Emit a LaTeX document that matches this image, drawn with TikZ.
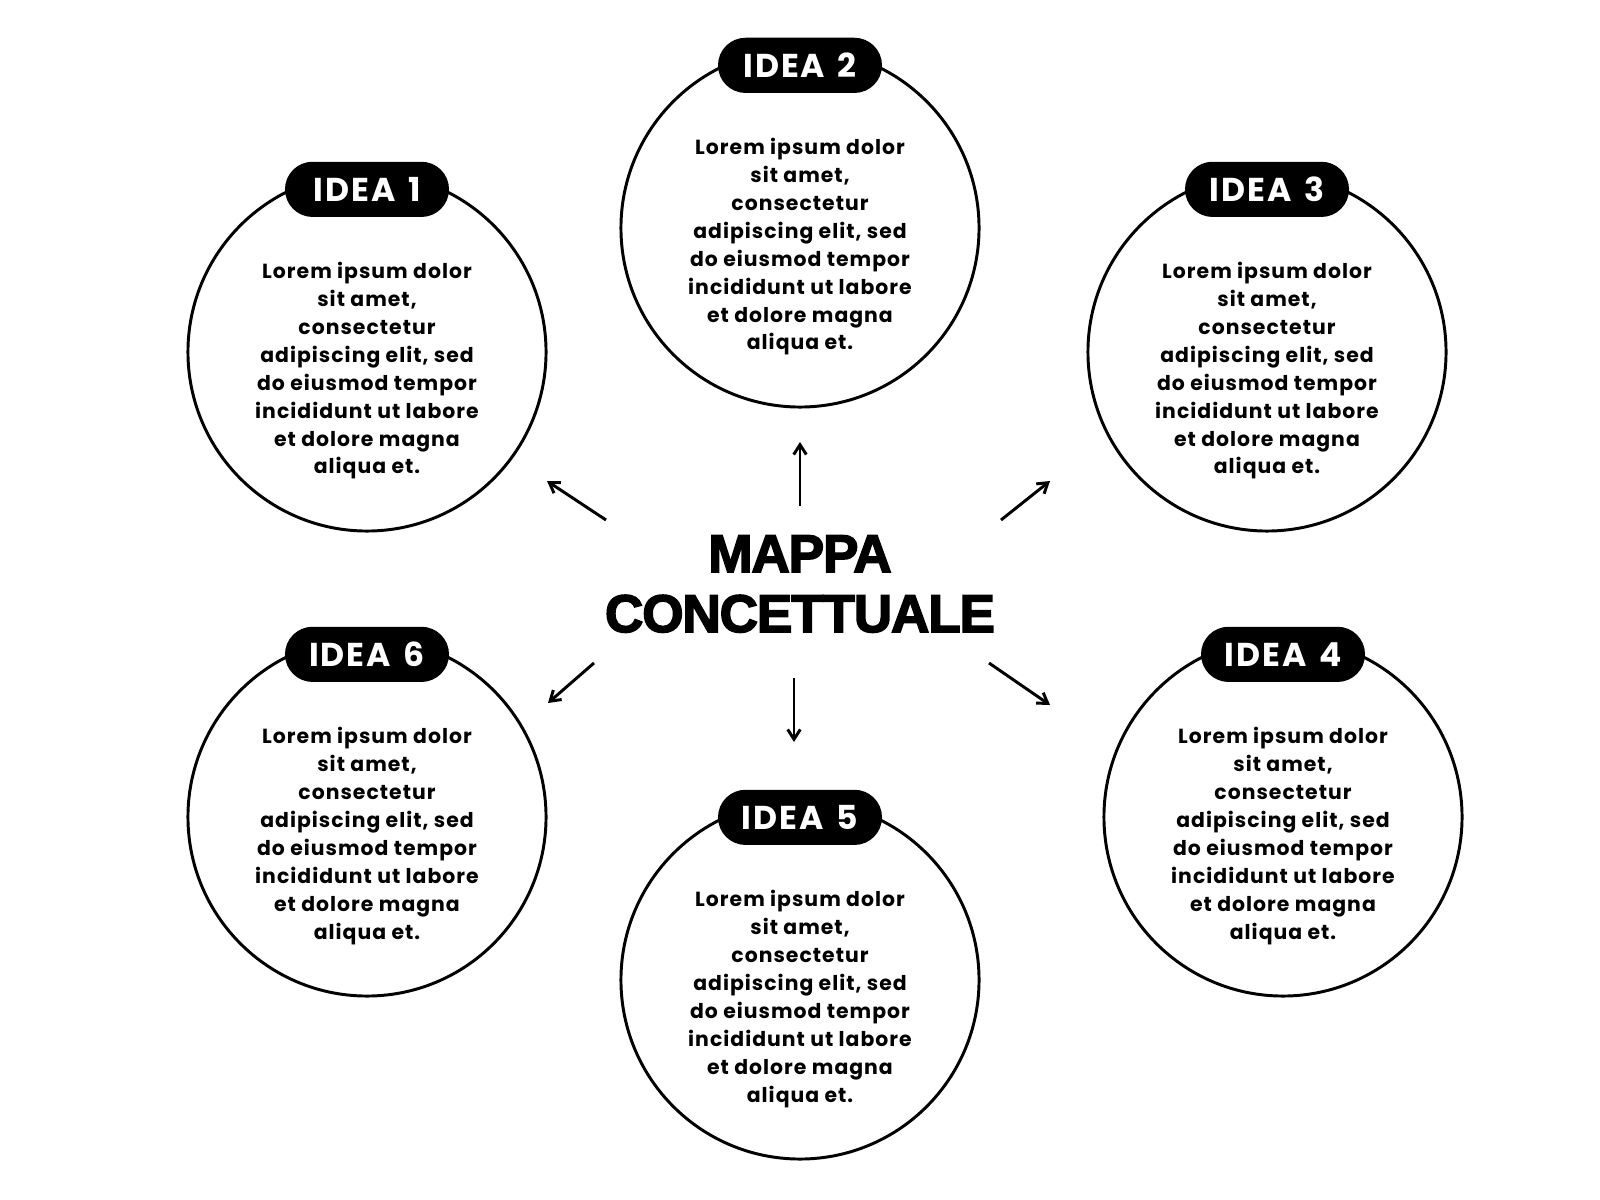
\documentclass[tikz,border=0pt]{standalone}
\usepackage{fontspec}
\setmainfont{Poppins}[LetterSpace=5]
\newfontfamily\pillfont{Poppins}[LetterSpace=6, WordSpace=1.4]
\newfontfamily\titlefont{Liberation Sans}[LetterSpace=-2, BoldFeatures={FakeBold=3}]
\usepackage{tikz}
\usetikzlibrary{arrows.meta, positioning}

\begin{document}
\begin{tikzpicture}[x=0.025cm, y=-0.025cm,
	idea/.style={circle, draw, line width=2.1pt, minimum size=8.95cm, inner sep=0pt},
	body/.style={align=center, inner sep=0pt, font=\fontsize{14.5}{19.9}\selectfont\bfseries},
	pill/.style={fill=black, text=white, rounded corners=0.69cm, minimum width=4.1cm, minimum height=1.38cm, inner sep=0pt, font=\pillfont\bfseries\fontsize{23.5}{23.5}\selectfont},
	arr/.style={-{Straight Barb[length=7pt, width=9pt]}, line width=2.1pt}]
	\useasboundingbox[fill=white] (0,0) rectangle (1600,1200);

	% Define nodes
	\node (c1) [idea] at (367,352) {};
	\node (c2) [idea] at (800,228) {};
	\node (c3) [idea] at (1267,352) {};
	\node (c4) [idea] at (1283,817) {};
	\node (c5) [idea] at (800,980) {};
	\node (c6) [idea] at (367,817) {};

	% Labels on top of each circle
	\node (p1) [pill, below=-0.25cm of c1.north] {IDEA 1};
	\node (p2) [pill, below=-0.25cm of c2.north] {IDEA 2};
	\node (p3) [pill, below=-0.25cm of c3.north] {IDEA 3};
	\node (p4) [pill, below=-0.25cm of c4.north] {IDEA 4};
	\node (p5) [pill, below=-0.25cm of c5.north] {IDEA 5};
	\node (p6) [pill, below=-0.25cm of c6.north] {IDEA 6};

	% Text inside the circles
	\node (t1) [body, below=2.25cm of c1.north] {Lorem ipsum dolor\\sit amet,\\consectetur\\adipiscing elit, sed\\do eiusmod tempor\\incididunt ut labore\\et dolore magna\\aliqua et.};
	\node (t2) [body, below=2.25cm of c2.north] {Lorem ipsum dolor\\sit amet,\\consectetur\\adipiscing elit, sed\\do eiusmod tempor\\incididunt ut labore\\et dolore magna\\aliqua et.};
	\node (t3) [body, below=2.25cm of c3.north] {Lorem ipsum dolor\\sit amet,\\consectetur\\adipiscing elit, sed\\do eiusmod tempor\\incididunt ut labore\\et dolore magna\\aliqua et.};
	\node (t4) [body, below=2.25cm of c4.north] {Lorem ipsum dolor\\sit amet,\\consectetur\\adipiscing elit, sed\\do eiusmod tempor\\incididunt ut labore\\et dolore magna\\aliqua et.};
	\node (t5) [body, below=2.25cm of c5.north] {Lorem ipsum dolor\\sit amet,\\consectetur\\adipiscing elit, sed\\do eiusmod tempor\\incididunt ut labore\\et dolore magna\\aliqua et.};
	\node (t6) [body, below=2.25cm of c6.north] {Lorem ipsum dolor\\sit amet,\\consectetur\\adipiscing elit, sed\\do eiusmod tempor\\incididunt ut labore\\et dolore magna\\aliqua et.};

	% Title in the middle
	\node (title) [align=center, inner sep=0pt, font=\titlefont\bfseries\fontsize{37.7}{42.7}\selectfont] at (800,584) {MAPPA\\CONCETTUALE};

	% Arrow ends
	\coordinate (s1) at (606,520);  \coordinate (e1) at (547,481);
	\coordinate (s2) at (800,506);  \coordinate (e2) at (800,442);
	\coordinate (s3) at (1001,520); \coordinate (e3) at (1050,481);
	\coordinate (s4) at (989,663);  \coordinate (e4) at (1050,705);
	\coordinate (s5) at (794,678);  \coordinate (e5) at (794,742);
	\coordinate (s6) at (594,663);  \coordinate (e6) at (548,703);

	% Arrows out of the title
	\draw[arr] (s1) -- (e1);
	\draw[arr] (s2) -- (e2);
	\draw[arr] (s3) -- (e3);
	\draw[arr] (s4) -- (e4);
	\draw[arr] (s5) -- (e5);
	\draw[arr] (s6) -- (e6);
\end{tikzpicture}
\end{document}
